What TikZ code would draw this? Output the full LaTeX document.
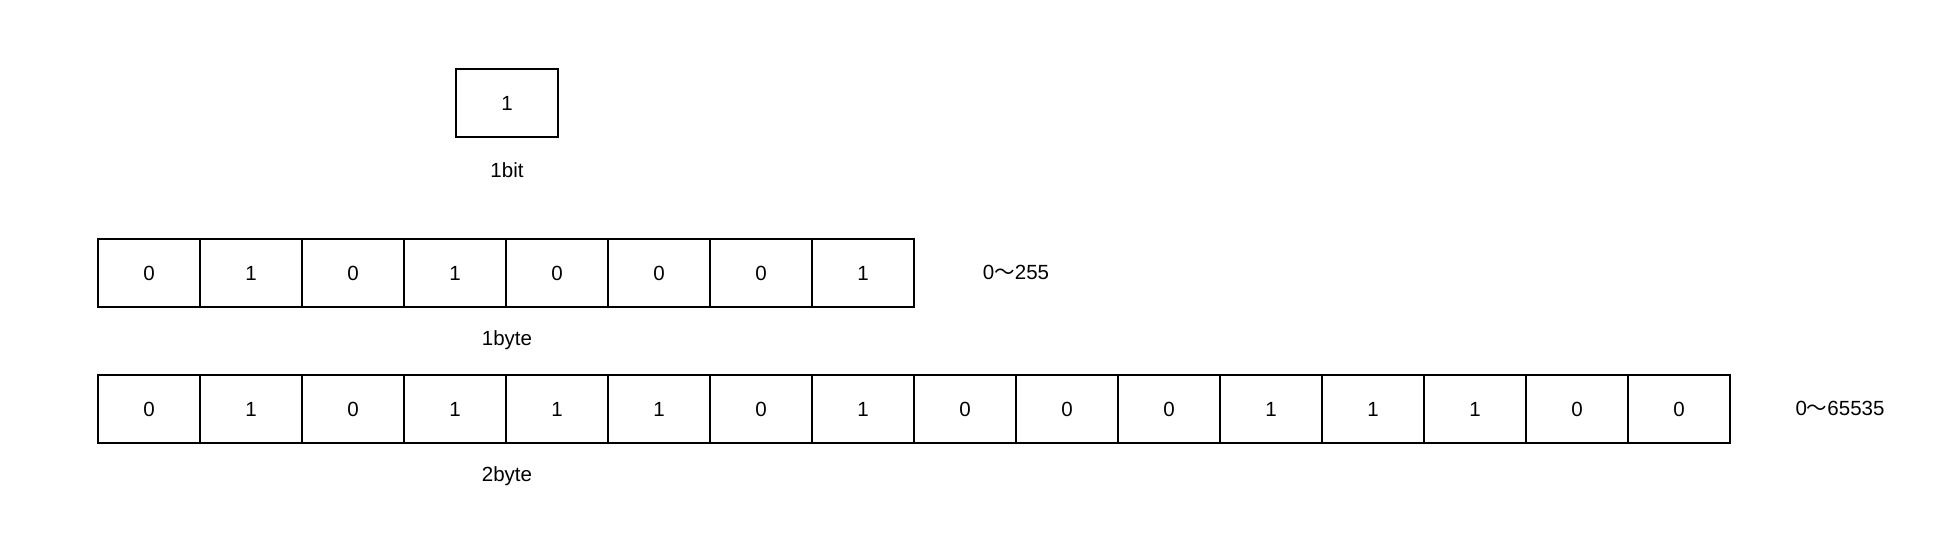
\documentclass[tikz,border=0pt]{standalone}
\usepackage{fontspec}
\setmainfont{Liberation Sans}
\newfontfamily\cjk{Noto Sans CJK SC}
\tikzset{
  bitnode/.style = {draw=black, line width=1.5pt, minimum width=102pt,
    minimum height=68pt, inner sep=0pt, text centered,
    font=\fontsize{20.5}{24}\selectfont},
  sizelabel/.style = {inner sep=0pt, font=\fontsize{20.5}{24}\selectfont}
}

\begin{document}
\begin{tikzpicture}[x=1pt,y=-1pt]
    \useasboundingbox (0,0) rectangle (1936,550);
    % one bit
    \node[bitnode] (bit) at (507,103) {1};
    \node[sizelabel] (bitlabel) at (507,170) {1bit};
    % one byte
    \foreach \b [count=\i] in {0,1,0,1,0,0,0,1}
      \node[bitnode] (a\i) at ({149+(\i-1)*102},273) {\b};
    \node[sizelabel] (bytelabel) at (507,340) {1byte};
    \node[sizelabel] (byterange) at (1016,272) {0{\cjk ～}255};
    % two bytes
    \foreach \b [count=\i] in {0,1,0,1,1,1,0,1,0,0,0,1,1,1,0,0}
      \node[bitnode] (b\i) at ({149+(\i-1)*102},409) {\b};
    \node[sizelabel] (wordlabel) at (507,476) {2byte};
    \node[sizelabel] (wordrange) at (1840,408) {0{\cjk ～}65535};
  \end{tikzpicture}
\end{document}
